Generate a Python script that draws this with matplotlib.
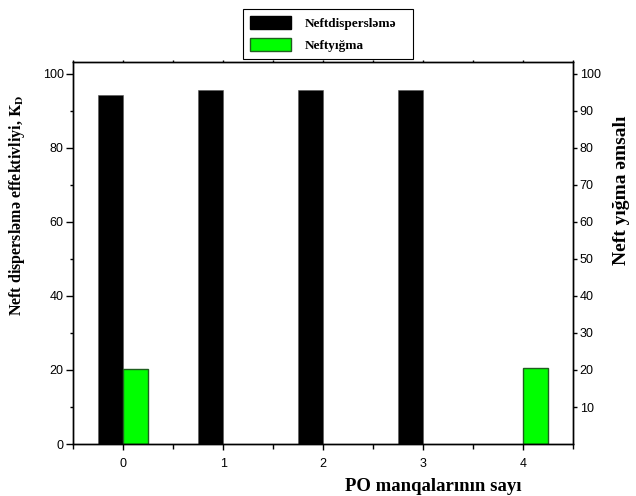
import matplotlib
matplotlib.use("Agg")
import matplotlib.pyplot as plt
from matplotlib.patches import Patch
from matplotlib.ticker import MultipleLocator, FixedLocator

# Data
groups = [0, 1, 2, 3, 4]
dispersion = [94.4, 95.7, 95.7, 95.7, None]   # Neftdisperslәmә
collection = [20.2, None, None, None, 20.5]   # Neftyığma
series_names = ["Neftdisperslәmә", "Neftyığma"]
left_ticks = [0, 20, 40, 60, 80, 100]
right_ticks = [10, 20, 30, 40, 50, 60, 70, 80, 90, 100]

plt.rcParams["mathtext.fontset"] = "stix"
serif = ["Liberation Serif", "DejaVu Serif"]
sans = ["Liberation Sans", "DejaVu Sans"]

fig = plt.figure(figsize=(6.36, 4.96), dpi=100)
ax = fig.add_axes([0.1153, 0.1048, 0.7852, 0.7702])

width = 0.25
# black bars to the left of each tick, green bars to the right
for x, v in zip(groups, dispersion):
    if v is not None:
        ax.bar(x, v, width=-width, align="edge", color="black",
               edgecolor="#555555", linewidth=0.4, zorder=2)
for x, v in zip(groups, collection):
    if v is not None:
        ax.bar(x, v, width=width, align="edge", color="#00ff00",
               edgecolor="#1f5f1f", linewidth=1.0, zorder=2)

ymax = 103.2
ax.set_xlim(-0.5, 4.5)
ax.set_ylim(0, ymax)

ax.xaxis.set_major_locator(FixedLocator(groups))
ax.xaxis.set_minor_locator(MultipleLocator(0.5))
ax.yaxis.set_major_locator(FixedLocator(left_ticks))
ax.yaxis.set_minor_locator(MultipleLocator(10))

for s in ax.spines.values():
    s.set_linewidth(1.0)

ax.tick_params(axis="y", which="major", direction="out", length=5, width=1,
               labelsize=9, pad=2)
ax.tick_params(axis="y", which="minor", direction="out", length=2.5, width=1)
ax.tick_params(axis="x", which="major", direction="out", length=4, width=1,
               labelsize=9, pad=6, top=True)
ax.tick_params(axis="x", which="minor", direction="out", length=3.5, width=1,
               top=True)
for lab in ax.get_xticklabels() + ax.get_yticklabels():
    lab.set_family(sans)

# short ticks along the top edge
for t in ax.xaxis.get_major_ticks() + ax.xaxis.get_minor_ticks():
    t.tick2line.set_markersize(1.5)

ax2 = ax.twinx()
ax2.set_ylim(0, ymax)
ax2.yaxis.set_major_locator(FixedLocator(right_ticks))
ax2.tick_params(axis="y", direction="out", length=3, width=1,
                labelsize=9, pad=2)
for lab in ax2.get_yticklabels():
    lab.set_family(sans)
for s in ax2.spines.values():
    s.set_linewidth(1.0)

ax.set_ylabel(r"Neft disperslәmә effektivliyi, $\mathbf{K_D}$",
              family=serif, fontweight="bold", fontsize=11.5)
ax.yaxis.set_label_coords(-0.092, 0.625)
ax2.set_ylabel("Neft yığma əmsalı", family=serif, fontweight="bold",
               fontsize=14)
ax2.yaxis.set_label_coords(1.08, 0.665)
ax.set_xlabel("PO manqalarının sayı", family=serif, fontweight="bold",
              fontsize=13.5)
ax.xaxis.set_label_coords(0.72, -0.088)

handles = [Patch(facecolor="black", edgecolor="black"),
           Patch(facecolor="#00ff00", edgecolor="#1f5f1f", linewidth=1.0)]
leg = fig.legend(handles, series_names, loc="upper left",
                 bbox_to_anchor=(243 / 636, 1 - 9 / 496, 170 / 636, 0.0),
                 mode="expand", borderaxespad=0,
                 frameon=True, fancybox=False,
                 edgecolor="black", framealpha=1, borderpad=0.5,
                 handlelength=3.15, handleheight=1.2, handletextpad=1.0,
                 labelspacing=0.6,
                 prop={"family": serif, "weight": "bold", "size": 9.5})
leg.get_frame().set_linewidth(0.8)

fig.savefig("out.png", dpi=100)
